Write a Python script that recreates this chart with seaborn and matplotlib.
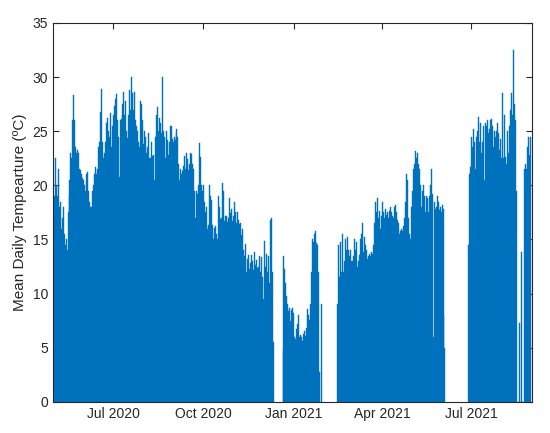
import numpy as np
import pandas as pd
import matplotlib
matplotlib.use("Agg")
import matplotlib.pyplot as plt
import matplotlib.dates as mdates
import seaborn as sns

# daily mean temperature, one list per unbroken stretch
seg_a_start = "2020-05-01"
seg_a = [17.5, 19, 22.5, 20, 19, 21.5, 18, 18.5, 16, 17, 18, 15.5, 14.5,
         15, 14, 17.5, 19, 20.5,
         23, 22.5, 26, 28.3, 26, 23.5, 23,
         23.3, 23, 21.5, 21.4, 21, 20.7, 20.5, 20, 19.5, 21, 21.2, 19.5, 18.5,
         18, 18, 19.5, 20, 21, 21.7, 21, 21.5, 23.5,
         24, 26.8, 28.9, 24, 22.5, 23, 24, 25.8, 26.2, 25, 24.5, 26.7, 23.5, 25.5, 26.5,
         27.3, 28, 28.4, 26, 24.5, 20.8, 26, 26.1, 26.5, 27.5, 28.6, 26.5, 27.8, 25, 24.4,
         26.5, 28.8, 27, 30, 28.5, 27, 28.6, 26, 25.5, 25, 24,
         23.5, 27.8, 27.5, 26, 23.8, 25, 24.5, 23, 23.5, 24.8, 22.5, 22.5, 24, 22.7, 22.8,
         20.5, 24.5, 26.5, 27.2, 25, 26.2, 25.8, 24.8, 30, 25, 24.5, 22.5,
         25, 24.2, 22.8, 24, 25.5, 25.5, 24.3, 24, 24.5, 24.2, 24.8, 25.2, 24.5, 22, 20.5,
         21.5, 21, 21.3, 21.8, 22.7, 21.5, 23, 22.4,
         21.4, 22, 23, 22.9, 22, 21.5, 19.5, 17, 19.5, 19.2, 20, 23.9, 22.6, 20, 19.5, 20,
         18.5, 17.5,
         18, 16, 16.3, 20, 19, 18.6, 16.3, 15, 16.1, 16.2, 15.5, 15, 19, 18, 16.9, 17, 20.2,
         19.5, 16.7, 17.2, 17.2, 16.6, 17, 17.1, 18.8, 17.4, 17.8,
         16.7, 17.2, 18.5, 17.5, 16.5, 17.5, 16.8, 16.4, 16.5, 15.4, 16, 14, 13.5, 14.6, 12,
         13.2, 13.6, 12.3, 12.8, 13.6, 13, 12.2, 13.8, 12.6, 13.1, 12.4,
         12.5, 13.5, 12, 13.4, 11.5, 9.5, 14.9, 12.5, 13.7, 12, 13.5, 11, 16.8, 17, 12, 5.5]

seg_b_start = "2020-12-21"
seg_b = [4.8, 13.5, 12.3, 11, 9.8, 9, 8.4,
         8.7, 7.5, 8.5, 8.7, 8.2, 6, 5.8, 6.7, 7.2, 8, 6, 6.2, 6, 5.6, 6.3, 6.5, 6.1, 6.8,
         8.6, 8,
         7.6, 9, 12, 15, 14.8, 15.5, 15.8, 14.7, 14.5, 12, 2.8, 0, 9]

seg_c_start = "2021-02-15"
seg_c = [9, 14.5, 11.5, 14.8, 12, 15.5, 12, 13, 15, 14, 15.2, 14, 13.5, 14, 13, 13, 13.5,
         15, 14,
         14.8, 12.5, 13, 13.6, 15, 15.5, 16.5, 13.8, 15.2, 14.5, 14, 13.2, 13.5, 13.7, 13.5,
         13.8, 13.7, 14.5, 16.5, 18.5,
         17.5, 18.8, 17, 17.6, 16, 17.2, 18.5, 17.5, 17, 17.8, 17.3, 17.5, 17, 17.6, 17.8,
         18, 17.5, 17.2, 17, 18, 18.2, 17.5, 16.8, 16.5, 15.5, 15.8, 16, 15.8, 16.2, 17,
         18.5, 21, 20.5, 17, 15.5, 15, 18, 19.5, 21.5, 22, 23.2, 22.5, 23, 22, 21.5, 20, 18,
         19.5, 20, 19, 17.5, 19, 18.8, 17.5, 19, 20, 21.5, 19.2, 6, 18.5, 17.8, 18, 19,
         18.5, 17.7, 18, 17.5, 18.2, 17.8, 8, 5]

seg_d_start = "2021-06-28"
seg_d = [14.5, 21, 21.7, 24.5, 23.5, 25.2, 24, 21.5, 24.5, 25, 26.3, 24, 25.8, 23, 24,
         25.5, 20.5, 25.8, 25.5, 26, 24.8, 25.2, 26, 26.1, 25.5, 23.5, 25, 24.5, 25, 17.5,
         25.8, 24.8, 23.3, 24.3, 22.5, 28.5, 22.5, 26.5, 22.6, 22, 25, 23, 25.5, 27, 28.5,
         26.5, 32.5, 27.5, 26, 19.5,
         0, 0, 7.3, 0, 13.8, 0, 0, 21.5, 22, 21.5, 23.5, 24.5, 22.8, 24.5]

tick_dates = ["2020-07-01", "2020-10-01", "2021-01-01", "2021-04-01", "2021-07-01"]

frames = []
for start, vals in [(seg_a_start, seg_a), (seg_b_start, seg_b),
                    (seg_c_start, seg_c), (seg_d_start, seg_d)]:
    frames.append(pd.DataFrame({"date": pd.date_range(start, periods=len(vals), freq="D"),
                                "temp": vals}))
df = pd.concat(frames, ignore_index=True)

sns.set_style("ticks")
plt.rcParams["font.family"] = ["Liberation Sans", "DejaVu Sans"]

fig = plt.figure(figsize=(5.5, 4.33), dpi=100)
ax = fig.add_axes([0.096, 0.072, 0.871, 0.875])
ax.bar(df["date"], df["temp"], width=1.0, color="#0072BD", edgecolor="#0072BD", linewidth=0.3)

ax.set_xlim(pd.Timestamp("2020-04-30 12:00"), pd.Timestamp("2021-08-31 12:00"))
ax.set_ylim(0, 35)
ax.set_yticks(range(0, 36, 5))
ax.set_xticks(pd.to_datetime(tick_dates))
ax.xaxis.set_major_formatter(mdates.DateFormatter("%b %Y"))
ax.tick_params(direction="in", top=True, right=True, labelsize=10, colors="#262626", length=4)
for s in ax.spines.values():
    s.set_linewidth(0.8)
    s.set_color("#262626")
ax.set_ylabel("Mean Daily Tempearture (ºC)", fontsize=11)

fig.savefig("out.png", dpi=100)
